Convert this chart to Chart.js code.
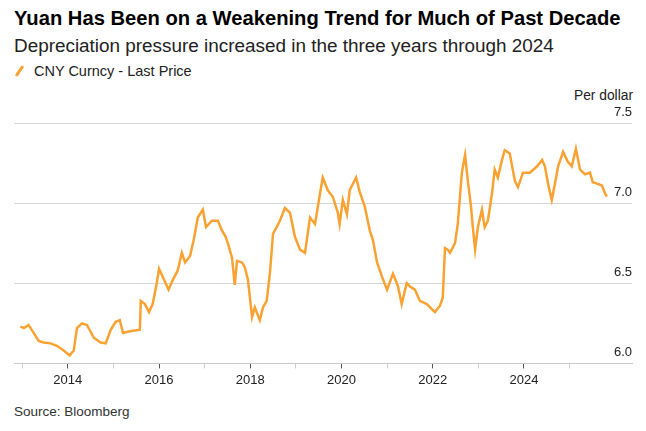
<!DOCTYPE html>
<html>
<head>
<meta charset="utf-8">
<script src="https://cdn.jsdelivr.net/npm/chart.js@4"></script>
<style>
  html, body { margin: 0; padding: 0; background: #fff; }
  body { width: 646px; height: 431px; position: relative; overflow: hidden; font-family: "Liberation Sans", Arial, sans-serif; }
  .txt { position: absolute; white-space: nowrap; line-height: 1; }
  #title { left: 14px; top: 8px; font-size: 20.2px; font-weight: bold; color: #000; }
  #subtitle { left: 14px; top: 37px; font-size: 18.9px; color: #222; }
  #legend { left: 34px; top: 64px; font-size: 14.5px; color: #222; }
  #legend-icon { position: absolute; left: 18px; top: 65px; width: 3px; height: 12px; background: #f9a232; transform: rotate(35deg); border-radius: 1px; }
  #unit { right: 13px; top: 89px; font-size: 13.8px; color: #222; }
  #source { left: 14px; top: 405px; font-size: 13.5px; color: #333; }
  canvas { position: absolute; left: 0; top: 0; }
</style>
</head>
<body>
<div id="title" class="txt">Yuan Has Been on a Weakening Trend for Much of Past Decade</div>
<div id="subtitle" class="txt">Depreciation pressure increased in the three years through 2024</div>
<div id="legend-icon"></div>
<div id="legend" class="txt">CNY Curncy - Last Price</div>
<div id="unit" class="txt">Per dollar</div>
<div id="source" class="txt">Source: Bloomberg</div>
<canvas id="chart" width="646" height="431"></canvas>
<script>
// readings, x as decimal year
const years = [
  2012.96, 2013.04, 2013.14, 2013.25, 2013.36, 2013.47, 2013.62, 2013.76, 2013.91,
  2014.04, 2014.13, 2014.20, 2014.31, 2014.42, 2014.57, 2014.72, 2014.83, 2014.94,
  2015.05, 2015.14, 2015.21, 2015.36, 2015.58, 2015.60, 2015.69, 2015.78, 2015.86, 2015.95,
  2016.00, 2016.08, 2016.21, 2016.30, 2016.41, 2016.50, 2016.57, 2016.68, 2016.76, 2016.85, 2016.96,
  2017.03, 2017.16, 2017.29, 2017.38, 2017.46, 2017.52, 2017.60, 2017.66, 2017.71, 2017.82, 2017.88, 2017.95,
  2018.04, 2018.10, 2018.21, 2018.28, 2018.36, 2018.43, 2018.50, 2018.58, 2018.65, 2018.76, 2018.87, 2018.98,
  2019.09, 2019.20, 2019.26, 2019.31, 2019.42, 2019.53, 2019.59, 2019.70, 2019.81, 2019.92, 2019.96,
  2020.03, 2020.12, 2020.18, 2020.32, 2020.40, 2020.51, 2020.62, 2020.69, 2020.78, 2020.89,
  2021.00, 2021.13, 2021.24, 2021.32, 2021.43, 2021.50, 2021.61, 2021.72, 2021.87,
  2022.05, 2022.16, 2022.22, 2022.27, 2022.33, 2022.38, 2022.49, 2022.55, 2022.64, 2022.71, 2022.77, 2022.84, 2022.88, 2022.93, 2022.99,
  2023.08, 2023.14, 2023.21, 2023.30, 2023.36, 2023.43, 2023.52, 2023.58, 2023.69, 2023.80, 2023.87, 2023.98,
  2024.13, 2024.29, 2024.40, 2024.46, 2024.53, 2024.61, 2024.68, 2024.75, 2024.86, 2024.96,
  2025.05, 2025.14, 2025.23, 2025.34, 2025.45, 2025.51, 2025.62, 2025.71, 2025.78, 2025.82
];
const cny = [
  6.23, 6.22, 6.24, 6.19, 6.14, 6.13, 6.125, 6.11, 6.08,
  6.05, 6.08, 6.22, 6.25, 6.24, 6.16, 6.13, 6.125, 6.21,
  6.26, 6.27, 6.19, 6.20, 6.21, 6.39, 6.37, 6.32, 6.37, 6.50,
  6.59, 6.54, 6.46, 6.52, 6.58, 6.69, 6.63, 6.67, 6.77, 6.91, 6.96,
  6.85, 6.89, 6.89, 6.83, 6.79, 6.74, 6.66, 6.49, 6.64, 6.63, 6.60, 6.52,
  6.29, 6.35, 6.27, 6.35, 6.39, 6.56, 6.81, 6.85, 6.89, 6.97, 6.94, 6.79,
  6.71, 6.69, 6.81, 6.91, 6.87, 7.06, 7.16, 7.08, 7.04, 6.94, 6.87,
  7.02, 6.93, 7.08, 7.16, 7.07, 6.98, 6.83, 6.77, 6.63, 6.54,
  6.46, 6.56, 6.48, 6.37, 6.50, 6.48, 6.46, 6.39, 6.37,
  6.32, 6.36, 6.41, 6.72, 6.71, 6.69, 6.75, 6.87, 7.19, 7.30, 7.14, 6.98, 6.85, 6.71, 6.85,
  6.96, 6.85, 6.89, 7.06, 7.21, 7.16, 7.27, 7.33, 7.31, 7.14, 7.10, 7.19,
  7.19, 7.23, 7.27, 7.23, 7.12, 7.02, 7.12, 7.23, 7.32, 7.26,
  7.23, 7.34, 7.21, 7.18, 7.19, 7.13, 7.12, 7.11, 7.06, 7.04
];
const yearTicks = [2013, 2014, 2015, 2016, 2017, 2018, 2019, 2020, 2021, 2022, 2023, 2024, 2025];
const valueTicks = [6.0, 6.5, 7.0, 7.5];

const ctx = document.getElementById('chart').getContext('2d');
new Chart(ctx, {
  type: 'line',
  data: {
    datasets: [{
      label: 'CNY Curncy - Last Price',
      data: years.map((x, i) => ({ x, y: cny[i] })),
      borderColor: '#f9a232',
      borderWidth: 2.5,
      pointRadius: 0,
      tension: 0
    }]
  },
  options: {
    responsive: false,
    animation: false,
    layout: { padding: { left: 14, right: 14, top: 123, bottom: 39 } },
    plugins: {
      legend: { display: false },
      tooltip: { enabled: false }
    },
    scales: {
      x: {
        type: 'linear',
        min: 2012.82,
        max: 2026.37,
        afterBuildTicks: axis => { axis.ticks = yearTicks.map(v => ({ value: v })); },
        ticks: {
          padding: 4,
          maxRotation: 0,
          autoSkip: false,
          color: '#222',
          font: { family: 'Liberation Sans', size: 13 },
          callback: v => (v % 2 === 0 ? String(v) : '')
        },
        grid: {
          drawOnChartArea: false,
          drawTicks: true,
          tickLength: 5,
          tickColor: c => (c.tick && c.tick.value % 2 === 0 ? '#555' : '#ccc')
        },
        border: { display: true, color: '#c8c8c8', width: 1 }
      },
      y: {
        position: 'right',
        min: 6.0,
        max: 7.5,
        afterBuildTicks: axis => { axis.ticks = valueTicks.map(v => ({ value: v })); },
        ticks: {
          mirror: true,
          padding: 0,
          labelOffset: -11,
          color: '#222',
          font: { family: 'Liberation Sans', size: 13 },
          callback: v => v.toFixed(1)
        },
        grid: { color: '#d6d6d6', lineWidth: 1, drawTicks: false },
        border: { display: false }
      }
    }
  }
});
</script>
</body>
</html>
